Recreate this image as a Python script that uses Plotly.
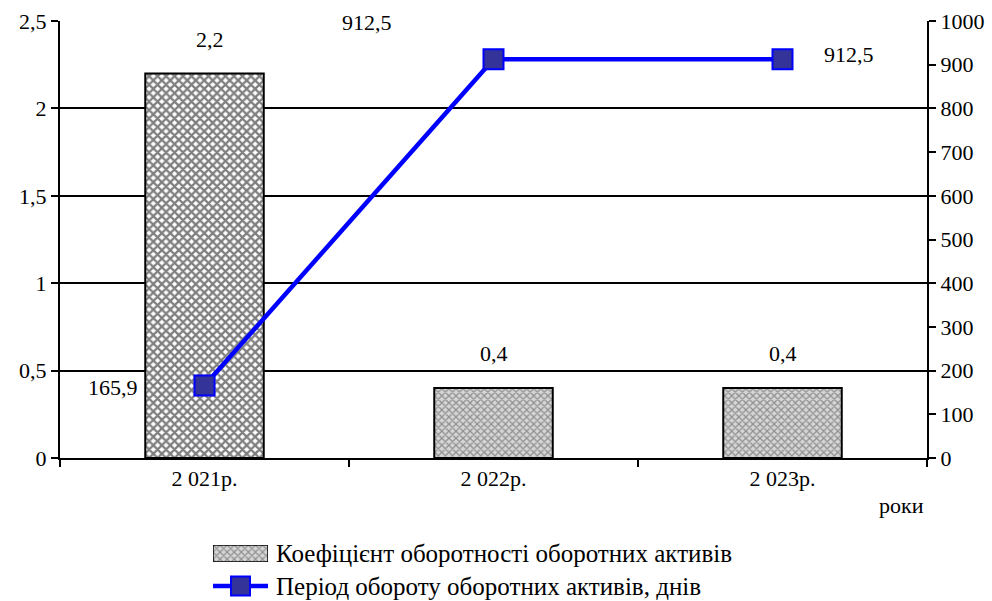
import plotly.graph_objects as go

# Роки та показники оборотних активів
years = ["2 021р.", "2 022р.", "2 023р."]
turnover_ratio = [2.2, 0.4, 0.4]          # коефіцієнт оборотності
turnover_days = [165.9, 912.5, 912.5]     # період обороту, днів
ratio_labels = ["2,2", "0,4", "0,4"]
days_labels = ["165,9", "912,5", "912,5"]
series_names = ["Коефіцієнт оборотності оборотних активів",
                "Період обороту оборотних активів, днів"]

left_ticks = [0, 0.5, 1, 1.5, 2, 2.5]
left_ticktext = ["0", "0,5", "1", "1,5", "2", "2,5"]
right_ticks = list(range(0, 1001, 100))

FONT = "Liberation Serif, Times New Roman, DejaVu Serif, serif"
TICK_SIZE, LABEL_SIZE, LEGEND_SIZE = 22, 22, 25
W, H = 992, 601
LINE_BLUE, MARKER_FILL = "#0000ff", "#333399"
DARK_PAT = dict(shape="x", size=6, solidity=0.62, fgcolor="#000000", bgcolor="white")
LIGHT_PAT = dict(shape="x", size=5, solidity=0.45, fgcolor="#4a4a4a", bgcolor="#d6d6d6")


def px_x(p):
    return p / W


def px_y(p):
    return 1 - p / H


fig = go.Figure()

# Перший стовпчик має темніший візерунок
fig.add_trace(go.Bar(
    x=years[:1], y=turnover_ratio[:1], width=0.41, showlegend=False,
    marker=dict(color="white", line=dict(color="black", width=2), pattern=DARK_PAT),
    hoverinfo="skip",
))
fig.add_trace(go.Bar(
    x=years[1:], y=turnover_ratio[1:], width=0.41, showlegend=False,
    name=series_names[0],
    marker=dict(color="white", line=dict(color="black", width=2), pattern=LIGHT_PAT),
))
fig.add_trace(go.Scatter(
    x=years, y=turnover_days, yaxis="y2", mode="lines+markers", showlegend=False,
    name=series_names[1],
    line=dict(color=LINE_BLUE, width=4.5),
    marker=dict(symbol="square", size=20, color=MARKER_FILL,
                line=dict(color=LINE_BLUE, width=2)),
))

# Зразок штрихування для легенди (окрема маленька вісь)
fig.add_trace(go.Bar(
    x=[0], y=[1], width=1, xaxis="x3", yaxis="y3", showlegend=False,
    marker=dict(color="white", line=dict(color="black", width=1.5), pattern=LIGHT_PAT),
    hoverinfo="skip",
))

# Підписи значень
ratio_shift = [34, 35, 35]
for i, (yv, t) in enumerate(zip(turnover_ratio, ratio_labels)):
    fig.add_annotation(x=years[i], y=yv, text=t, showarrow=False,
                       xshift=5 if i == 0 else 0, yshift=ratio_shift[i],
                       font=dict(family=FONT, size=LABEL_SIZE, color="black"))
day_shifts = [(-92, -2), (-127, 37), (66, 5)]
for i, (yv, t) in enumerate(zip(turnover_days, days_labels)):
    dx, dy = day_shifts[i]
    fig.add_annotation(x=years[i], y=yv, yref="y2", text=t, showarrow=False,
                       xshift=dx, yshift=dy,
                       font=dict(family=FONT, size=LABEL_SIZE, color="black"))

fig.add_annotation(x=px_x(926), y=px_y(505), xref="paper", yref="paper", text="роки",
                   showarrow=False, xanchor="right", yanchor="middle",
                   font=dict(family=FONT, size=LABEL_SIZE, color="black"))

# Легенда
for name, yc in zip(series_names, [553, 586]):
    fig.add_annotation(x=px_x(274), y=px_y(yc), xref="paper", yref="paper",
                       text=name, showarrow=False, xanchor="left", yanchor="middle",
                       font=dict(family=FONT, size=LEGEND_SIZE, color="black"))
fig.add_shape(type="line", xref="paper", yref="paper",
              x0=px_x(213), x1=px_x(268), y0=px_y(586), y1=px_y(586),
              line=dict(color=LINE_BLUE, width=4.5))
fig.add_shape(type="rect", xref="paper", yref="paper",
              x0=px_x(231), x1=px_x(250), y0=px_y(595.5), y1=px_y(576.5),
              fillcolor=MARKER_FILL, line=dict(color=LINE_BLUE, width=2))

fig.update_layout(
    width=W, height=H,
    margin=dict(l=0, r=0, t=0, b=0, autoexpand=False),
    paper_bgcolor="white", plot_bgcolor="white",
    barmode="overlay", showlegend=False,
    font=dict(family=FONT, size=TICK_SIZE, color="black"),
    xaxis=dict(type="category", domain=[px_x(60), px_x(927)],
               showline=True, linecolor="black", linewidth=2,
               ticks="outside", tickson="boundaries", ticklen=7,
               tickcolor="black", tickwidth=1.5, showgrid=False,
               tickfont=dict(family=FONT, size=TICK_SIZE)),
    yaxis=dict(range=[0, 2.5], domain=[px_y(458), px_y(21)],
               tickvals=left_ticks, ticktext=left_ticktext,
               showline=True, linecolor="black", linewidth=2,
               ticks="outside", ticklen=7, tickcolor="black", tickwidth=2,
               showgrid=True, gridcolor="black", gridwidth=1.5,
               zeroline=False, tickfont=dict(family=FONT, size=TICK_SIZE)),
    yaxis2=dict(range=[0, 1000], tickvals=right_ticks, overlaying="y",
                side="right", showline=True, linecolor="black", linewidth=2,
                ticks="outside", ticklen=7, tickcolor="black", tickwidth=2,
                showgrid=False, zeroline=False, tickfont=dict(family=FONT, size=TICK_SIZE)),
    xaxis3=dict(domain=[px_x(213), px_x(268)], range=[-0.5, 0.5], anchor="y3",
                visible=False, fixedrange=True),
    yaxis3=dict(domain=[px_y(562), px_y(545)], range=[0, 1], anchor="x3",
                visible=False, fixedrange=True),
)

fig.write_html("out.html")
